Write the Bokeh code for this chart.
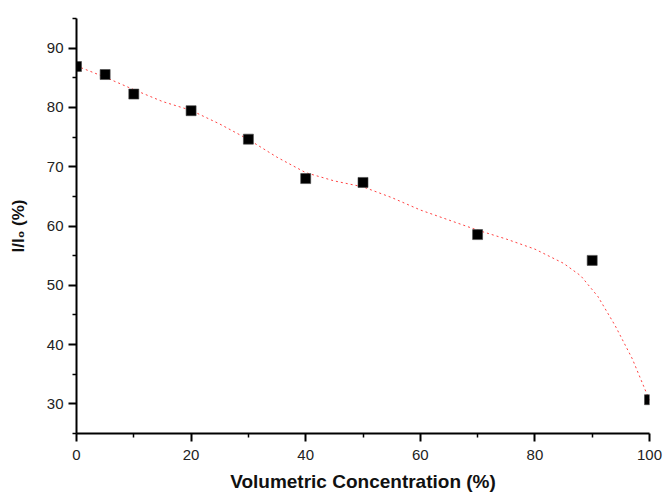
from bokeh.plotting import figure
from bokeh.models import FixedTicker, Range1d
from bokeh.embed import file_html
from bokeh.resources import INLINE

# measured points
conc = [0, 5, 10, 20, 30, 40, 50, 70, 90, 100]
ratio = [86.9, 85.55, 82.25, 79.45, 74.65, 68.0, 67.35, 58.55, 54.2, 30.7]

# fitted curve
fit_x = [0, 5, 10, 15, 20, 25, 30, 35, 40, 45, 50, 55, 60, 65, 70, 75, 80, 85, 88, 91, 94, 97, 100]
fit_y = [87.0, 85.1, 83.0, 81.0, 79.5, 77.2, 74.6, 71.6, 69.0, 67.6, 66.6, 64.8, 62.7, 61.0, 59.3, 57.8, 56.1, 53.7, 51.6, 48.1, 43.2, 37.6, 30.6]

x_major = [0, 20, 40, 60, 80, 100]
x_minor = [10, 30, 50, 70, 90]
y_major = [30, 40, 50, 60, 70, 80, 90]
y_minor = [25, 35, 45, 55, 65, 75, 85, 95]

p = figure(width=664, height=496, output_backend="svg", toolbar_location=None,
           x_range=Range1d(0, 100), y_range=Range1d(25, 95),
           min_border_left=76, min_border_right=15, min_border_top=18, min_border_bottom=63)
p.outline_line_color = None
p.grid.visible = False
p.background_fill_color = "white"
p.border_fill_color = "white"

p.line(fit_x, fit_y, line_color="#ff2020", line_width=1, line_dash="2 3", line_alpha=0.85)
p.scatter(conc, ratio, marker="square", size=10, fill_color="black", line_color="#444444", line_width=0.6)

p.xaxis.ticker = FixedTicker(ticks=x_major, minor_ticks=x_minor)
p.yaxis.ticker = FixedTicker(ticks=y_major, minor_ticks=y_minor)

for ax in (p.xaxis, p.yaxis):
    ax.axis_line_width = 2
    ax.axis_line_color = "black"
    ax.major_tick_line_width = 2
    ax.minor_tick_line_width = 1.5
    ax.major_tick_in = 0
    ax.minor_tick_in = 0
    ax.major_tick_out = 8
    ax.minor_tick_out = 4
    ax.major_label_text_font = "Liberation Sans"
    ax.major_label_text_font_size = "15px"
    ax.major_label_text_color = "#222222"
    ax.axis_label_text_font = "Liberation Sans"
    ax.axis_label_text_font_style = "bold"
    ax.axis_label_text_color = "#111111"

p.xaxis.axis_label = "Volumetric Concentration (%)"
p.xaxis.axis_label_text_font_size = "19px"
p.yaxis.axis_label = "I/I\u2080 (%)"
p.yaxis.axis_label_text_font_size = "17px"
p.xaxis.major_label_standoff = 8
p.xaxis.axis_label_standoff = 8
p.yaxis.major_label_standoff = 5
p.yaxis.axis_label_standoff = 16

open("out.html", "w").write(file_html(p, INLINE))
